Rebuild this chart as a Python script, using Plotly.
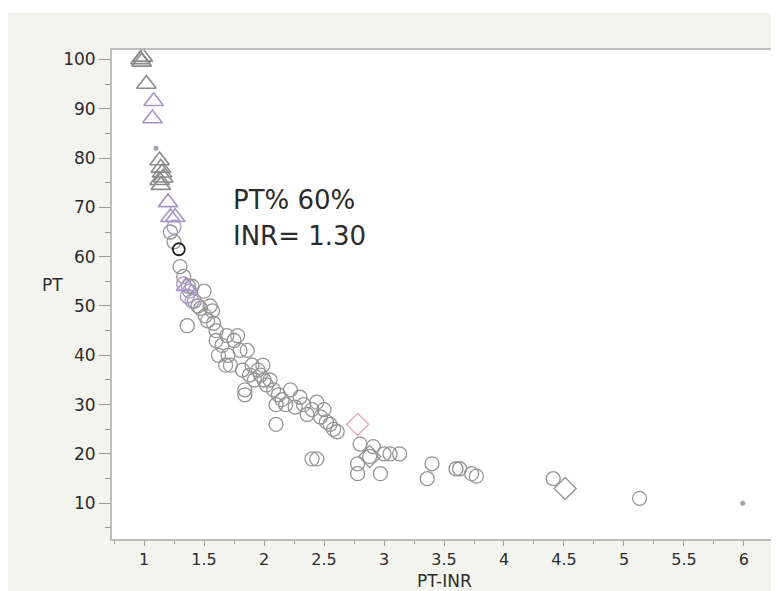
import plotly.graph_objects as go

# Grey open circles (PT-INR, PT)
circ_x = [1.22, 1.25, 1.30, 1.33, 1.37, 1.36, 1.40, 1.42, 1.45, 1.47, 1.50, 1.51, 1.53, 1.55, 1.57, 1.58, 1.60,
          1.62, 1.60, 1.65, 1.68, 1.69, 1.70, 1.72, 1.75, 1.78, 1.80, 1.82, 1.84, 1.84, 1.86, 1.88, 1.90, 1.92,
          1.95, 1.97, 1.99, 2.00, 2.02, 2.05, 2.08, 2.10, 2.10, 2.12, 2.15, 2.18, 2.22, 2.26, 2.30, 2.33, 2.36,
          2.40, 2.44, 2.47, 2.50, 2.52, 2.55, 2.58, 2.61, 2.40, 2.44, 2.78, 2.78, 2.80, 2.88, 2.91, 2.97, 3.00,
          3.05, 3.13, 3.36, 3.40, 3.60, 3.63, 3.73, 3.77, 4.41, 5.13]
circ_y = [65, 63, 58, 56, 54, 46, 54, 51, 50, 49.5, 53, 48, 47, 50, 49, 46.5, 45,
          40, 43, 42, 38, 44, 40, 38, 43, 44, 41, 37, 33, 32, 41, 36, 38, 35,
          37, 36, 38, 35, 34, 35, 33, 30, 26, 32, 31, 30, 33, 29.5, 31.5, 30, 28,
          29, 30.5, 27.5, 29, 26.5, 26, 25, 24.5, 19, 19, 18, 16, 22, 19.5, 21.5, 16, 20,
          20, 20, 15, 18, 17, 17, 16, 15.5, 15, 11]

# Highlighted black circle
blk_x = [1.29]
blk_y = [61.5]

# Light purple circles
pcirc_x = [1.25, 1.33, 1.36, 1.38, 1.40]
pcirc_y = [66, 54.5, 52, 53, 51]

# Grey open triangles
tri_x = [0.97, 0.98, 0.99, 1.02, 1.13, 1.14, 1.15, 1.16, 1.13, 1.14]
tri_y = [100, 99.5, 100.5, 95, 79.5, 78, 77, 76, 75.5, 74.5]

# Purple open triangles
ptri_x = [1.08, 1.07, 1.20, 1.22, 1.26, 1.35]
ptri_y = [91.5, 88, 71, 68, 68, 54]

# Diamonds
pdia_x = [2.78]
pdia_y = [26]
gdia_x = [4.51, 2.88]
gdia_y = [13, 19.5]

# Small dots
dot_x = [1.10, 5.99]
dot_y = [82, 10]

x_ticks = [1, 1.5, 2, 2.5, 3, 3.5, 4, 4.5, 5, 5.5, 6]
y_ticks = [10, 20, 30, 40, 50, 60, 70, 80, 90, 100]

grey = "#959595"
purple = "#a795c6"
txt = "#2b2b2b"
FONT = "DejaVu Sans, Liberation Sans, Arial, sans-serif"

W, H = 771, 583
L, R, T, B = 104, 3, 42, 52
PW, PH = W - L - R, H - T - B

fig = go.Figure()


def add(xs, ys, symbol, color, size, width=1.3):
    fig.add_trace(go.Scatter(
        x=xs, y=ys, mode="markers",
        marker=dict(symbol=symbol, size=size, color=color,
                    line=dict(color=color, width=width)),
        showlegend=False, hoverinfo="x+y"))


add(circ_x, circ_y, "circle-open", grey, 14)
add(pcirc_x, pcirc_y, "circle-open", purple, 14)
add(tri_x, tri_y, "triangle-up-open", "#8a8a8a", 17, 1.6)
add(ptri_x, ptri_y, "triangle-up-open", purple, 17, 1.6)
add(pdia_x, pdia_y, "diamond-open", "#e3a3b5", 17)
add(gdia_x, gdia_y, "diamond-open", grey, 17)
add(blk_x, blk_y, "circle-open", "#222222", 12, 1.8)
fig.add_trace(go.Scatter(x=dot_x, y=dot_y, mode="markers",
                         marker=dict(symbol="circle", size=5, color="#a0a0b0"),
                         showlegend=False))

fig.update_layout(
    width=W, height=H,
    margin=dict(l=L, r=R, t=T, b=B, autoexpand=False),
    paper_bgcolor="#f4f4ef",
    plot_bgcolor="white",
    font=dict(family=FONT, size=17, color=txt),
    showlegend=False,
    shapes=[dict(type="rect", xref="paper", yref="paper", x0=-0.2, x1=1.1,
                 y0=1.0 + 37 / PH, y1=1.2,
                 fillcolor="white", line=dict(width=0), layer="below")],
)


def px_x(p):
    return (p - 8 - L) / PW


def px_y(p):
    return (H - B + 8 - p) / PH


fig.add_annotation(text="PT% 60%", xref="paper", yref="paper",
                   x=px_x(231), y=px_y(200), xanchor="left", yanchor="middle",
                   showarrow=False, font=dict(family=FONT, size=26, color=txt))
fig.add_annotation(text="INR= 1.30", xref="paper", yref="paper",
                   x=px_x(231), y=px_y(236), xanchor="left", yanchor="middle",
                   showarrow=False, font=dict(family=FONT, size=26, color=txt))
fig.add_annotation(text="PT", xref="paper", yref="paper",
                   x=px_x(52), y=px_y(285), xanchor="center", yanchor="middle",
                   showarrow=False, font=dict(family=FONT, size=17, color=txt))
fig.add_annotation(text="PT-INR", xref="paper", yref="paper",
                   x=0.5, y=px_y(581), xanchor="center", yanchor="middle",
                   showarrow=False, font=dict(family=FONT, size=17, color=txt))

fig.update_xaxes(
    range=[0.733, 6.267], tickvals=x_ticks, ticktext=[str(t) for t in x_ticks],
    ticks="outside", ticklen=5, tickcolor="#999999", tickwidth=1.2,
    minor=dict(dtick=0.25, tick0=0.75, ticks="outside", ticklen=3, tickcolor="#999999", showgrid=False),
    showline=True, linecolor="#bdbdbd", linewidth=2, mirror=True,
    showgrid=False, zeroline=False, automargin=False,
    tickfont=dict(family=FONT, size=16),
)
fig.update_yaxes(
    range=[2.76, 101.9], tickvals=y_ticks,
    ticks="outside", ticklen=11, tickcolor="#999999", tickwidth=1.2,
    minor=dict(dtick=5, tick0=5, ticks="outside", ticklen=5, tickcolor="#999999", showgrid=False),
    showline=True, linecolor="#bdbdbd", linewidth=2, mirror=True,
    showgrid=False, zeroline=False, automargin=False,
    tickfont=dict(family=FONT, size=17),
)

fig.write_html("out.html")
